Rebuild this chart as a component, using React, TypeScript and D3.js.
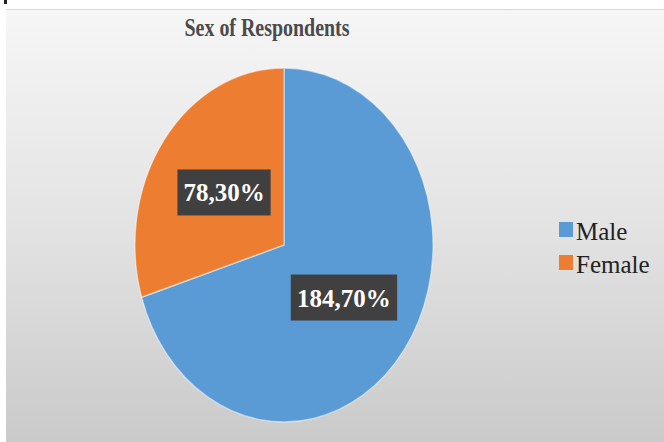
import React from "react";
import * as d3 from "d3";

const categories = ["Male", "Female"];
const counts = [184, 78];
const percents = [70, 30];
const colors = ["#5B9BD5", "#ED7D31"];
const title = "Sex of Respondents";

const W = 664;
const H = 442;

export default function App() {
  const cx = 284;
  const cy = 245;
  const rx = 149;
  const ry = 177;
  const sy = ry / rx;

  const pie = d3.pie<number>().sort(null).value((d) => d)(counts);
  const arc = d3.arc<d3.PieArcDatum<number>>().innerRadius(0).outerRadius(rx);
  const labelArc = d3.arc<d3.PieArcDatum<number>>().innerRadius(rx * 0.5).outerRadius(rx * 0.5);

  const serif = "Liberation Serif, Times New Roman, serif";

  return (
    <svg
      width={W}
      height={H}
      style={{ position: "absolute", left: 0, top: 0, display: "block" }}
    >
      <defs>
        <linearGradient id="bg" x1="0" y1="0" x2="0" y2="1">
          <stop offset="0" stopColor="#f6f6f6" />
          <stop offset="0.5" stopColor="#e3e3e3" />
          <stop offset="1" stopColor="#cacaca" />
        </linearGradient>
      </defs>
      <rect x={0} y={0} width={W} height={H} fill="#ffffff" />
      <rect x={4} y={0} width={3} height={4} fill="#222" />
      <rect x={6} y={9} width={W - 6} height={H - 9} fill="url(#bg)" />
      <line x1={6} y1={9.5} x2={W} y2={9.5} stroke="#d8d8d8" strokeWidth={1} />

      <text
        x={267}
        y={36}
        textAnchor="middle"
        fontFamily={serif}
        fontWeight="bold"
        fontSize={26}
        fill="#4a4a4a"
        textLength={165}
        lengthAdjust="spacingAndGlyphs"
      >
        {title}
      </text>

      <g transform={`translate(${cx},${cy}) scale(1,${sy})`}>
        {pie.map((p, i) => (
          <path
            key={categories[i]}
            d={arc(p) || ""}
            fill={colors[i]}
            stroke="#ffffff"
            strokeOpacity={0.5}
            strokeWidth={1.2}
          />
        ))}
      </g>

      {pie.map((p, i) => {
        const [lx, ly] = labelArc.centroid(p);
        const px = cx + lx;
        const py = cy + ly * sy;
        const label = `${counts[i]},${percents[i]}%`;
        const tw = label.length * 13.2;
        const bw = tw + 14;
        const bh = 46;
        return (
          <g key={"lbl" + i}>
            <rect x={px - bw / 2} y={py - bh / 2} width={bw} height={bh} fill="#404040" />
            <text
              x={px}
              y={py + 9}
              textAnchor="middle"
              fontFamily={serif}
              fontWeight="bold"
              fontSize={25}
              fill="#ffffff"
            >
              {label}
            </text>
          </g>
        );
      })}

      {categories.map((c, i) => (
        <g key={"leg" + c} transform={`translate(559,${222 + i * 33})`}>
          <rect x={0} y={0} width={14} height={15} fill={colors[i]} />
          <text
            x={17}
            y={18}
            fontFamily={serif}
            fontSize={25}
            fill="#222222"
          >
            {c}
          </text>
        </g>
      ))}
    </svg>
  );
}
